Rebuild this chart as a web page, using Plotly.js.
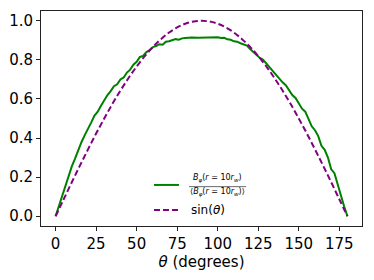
<!DOCTYPE html>
<html>
<head>
<meta charset="utf-8">
<script src="https://cdn.plot.ly/plotly-3.0.1.min.js"></script>
<style>html,body{margin:0;padding:0;background:#fff;}#chart{width:374px;height:280px;}</style>
</head>
<body>
<div id="chart"></div>
<script>
// Normalised field B_phi(r=10 r_w) / <B_phi(r=10 r_w)> (green)
var thetaField = [0,2,4,6,8,10,12,14,16,18,20,22,24,26,28,30,32,34,36,38,40,42,44,46,48,50,52,54,56,58,60,62,64,66,68,70,72,74,76,78,80,84,88,92,96,100,102,104,106,108,110,112,114,116,118,120,122,124,126,128,130,132,134,136,138,140,142,144,146,148,150,152,154,156,158,160,162,164,166,168,170,172,174,176,178,180];
var fieldValues = [0.00,0.05,0.11,0.16,0.21,0.255,0.295,0.34,0.38,0.415,0.445,0.48,0.515,0.535,0.565,0.595,0.62,0.64,0.665,0.675,0.70,0.71,0.735,0.75,0.775,0.79,0.815,0.82,0.84,0.85,0.865,0.87,0.88,0.878,0.893,0.895,0.902,0.906,0.903,0.91,0.912,0.915,0.913,0.915,0.914,0.916,0.912,0.913,0.905,0.903,0.895,0.893,0.885,0.878,0.873,0.855,0.84,0.83,0.81,0.80,0.78,0.765,0.74,0.725,0.705,0.685,0.67,0.645,0.62,0.605,0.575,0.55,0.535,0.50,0.46,0.44,0.41,0.36,0.34,0.30,0.24,0.22,0.16,0.11,0.05,0.00];
// sin(theta) reference (purple dashed)
var thetaSin = [0,5,10,15,20,25,30,35,40,45,50,55,60,65,70,75,80,85,90,95,100,105,110,115,120,125,130,135,140,145,150,155,160,165,170,175,180];
var sinValues = [0,0.087,0.174,0.259,0.342,0.423,0.5,0.574,0.643,0.707,0.766,0.819,0.866,0.906,0.940,0.966,0.985,0.996,1.0,0.996,0.985,0.966,0.940,0.906,0.866,0.819,0.766,0.707,0.643,0.574,0.5,0.423,0.342,0.259,0.174,0.087,0];
var xTicks = [0,25,50,75,100,125,150,175];
var yTicks = [0.0,0.2,0.4,0.6,0.8,1.0];
var yTickText = ['0.0','0.2','0.4','0.6','0.8','1.0'];

var green = '#008000', purple = '#800080';
var font = 'DejaVu Sans, sans-serif';

var traces = [
  {x: thetaField, y: fieldValues, mode: 'lines', line: {color: green, width: 2}, showlegend: false, hoverinfo: 'skip'},
  {x: thetaSin, y: sinValues, mode: 'lines', line: {color: purple, width: 2, dash: '6px,3px', shape: 'spline'}, showlegend: false, hoverinfo: 'skip'}
];

var axisCommon = {showgrid: false, zeroline: false, showline: true, mirror: true, linecolor: '#222', linewidth: 1,
  ticks: 'outside', ticklen: 4, tickwidth: 1, tickcolor: '#222', tickfont: {family: font, size: 15, color: '#000'}};

var layout = {
  width: 374, height: 280,
  margin: {l: 41, r: 12, t: 11, b: 54},
  paper_bgcolor: '#fff', plot_bgcolor: '#fff',
  font: {family: font, color: '#000'},
  xaxis: Object.assign({}, axisCommon, {range: [-9, 189], tickvals: xTicks, ticktext: xTicks.map(String),
    title: {text: '<i>θ</i> (degrees)', font: {family: font, size: 15, color: '#000'}, standoff: 0}}),
  yaxis: Object.assign({}, axisCommon, {range: [-0.05, 1.05], tickvals: yTicks, ticktext: yTickText}),
  shapes: [
    {type: 'line', xref: 'paper', yref: 'paper', x0: 0.352, x1: 0.430, y0: 0.191, y1: 0.191, line: {color: green, width: 2}},
    {type: 'line', xref: 'paper', yref: 'paper', x0: 0.352, x1: 0.430, y0: 0.074, y1: 0.074, line: {color: purple, width: 2, dash: '6px,3px'}},
    {type: 'line', xref: 'paper', yref: 'paper', x0: 0.461, x1: 0.639, y0: 0.183, y1: 0.183, line: {color: '#000', width: 0.6}}
  ],
  annotations: [
    {xref: 'paper', yref: 'paper', x: 0.55, y: 0.222, xanchor: 'center', yanchor: 'middle', showarrow: false,
      text: '<i>B</i><sub><i>φ</i></sub>(<i>r</i> = 10<i>r</i><sub><i>w</i></sub>)', font: {family: font, size: 8, color: '#000'}},
    {xref: 'paper', yref: 'paper', x: 0.55, y: 0.155, xanchor: 'center', yanchor: 'middle', showarrow: false,
      text: '⟨<i>B</i><sub><i>φ</i></sub>(<i>r</i> = 10<i>r</i><sub><i>w</i></sub>)⟩', font: {family: font, size: 8, color: '#000'}},
    {xref: 'paper', yref: 'paper', x: 0.461, y: 0.074, xanchor: 'left', yanchor: 'middle', showarrow: false,
      text: 'sin(<i>θ</i>)', font: {family: font, size: 12, color: '#000'}}
  ]
};

Plotly.newPlot('chart', traces, layout, {staticPlot: true, displayModeBar: false});
</script>
</body>
</html>
